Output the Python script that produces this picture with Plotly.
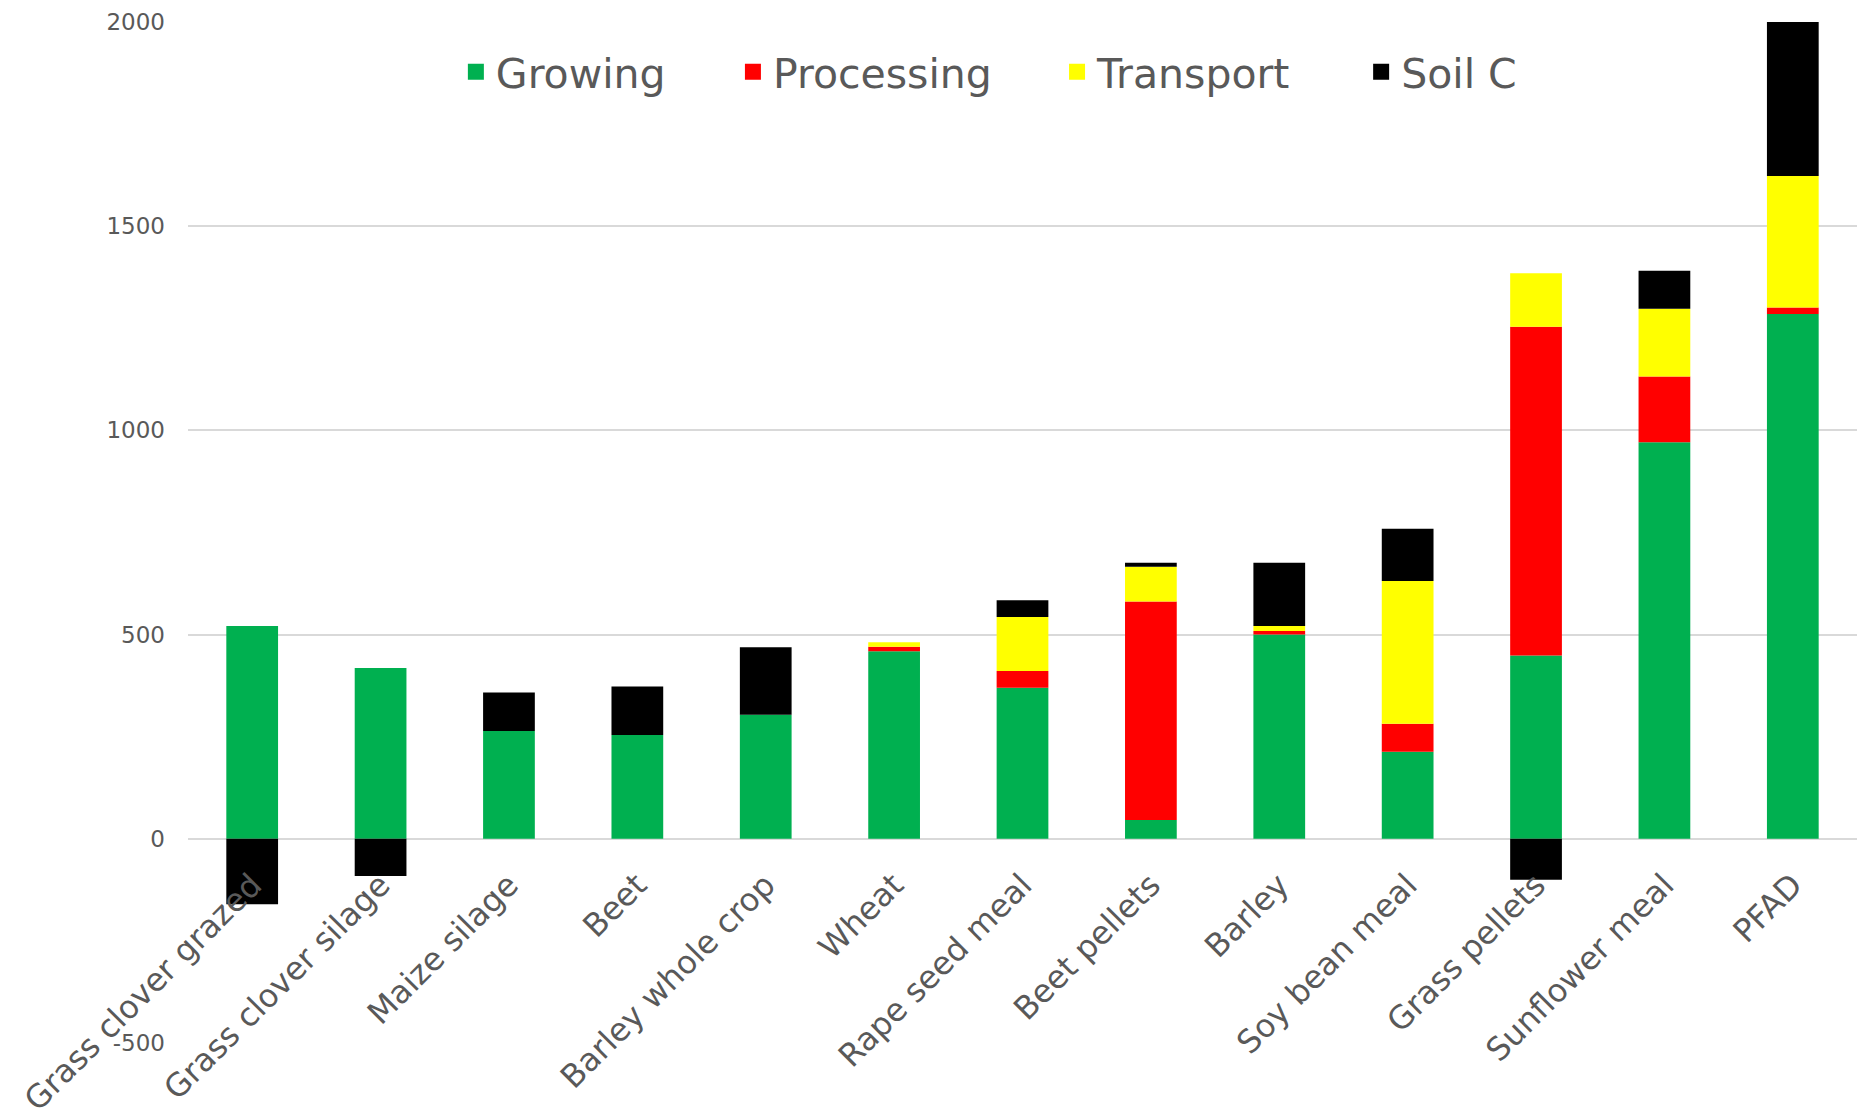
import plotly.graph_objects as go

categories = ["Grass clover grazed", "Grass clover silage", "Maize silage", "Beet",
              "Barley whole crop", "Wheat", "Rape seed meal", "Beet pellets", "Barley",
              "Soy bean meal", "Grass pellets", "Sunflower meal", "PFAD"]
growing = [521, 418, 264, 254, 304, 459, 370, 46, 500, 213, 449, 971, 1285]
processing = [0, 0, 0, 0, 0, 11, 41, 535, 9, 69, 805, 161, 16]
transport = [0, 0, 0, 0, 0, 11, 132, 85, 12, 349, 131, 166, 322]
soil_c = [-160, -91, 94, 119, 165, 0, 41, 10, 155, 128, -100, 93, 377]

y_tick_values = [-500, 0, 500, 1000, 1500, 2000]
y_tick_labels = ["-500", "0", "500", "1000", "1500", "2000"]

series_names = ["Growing", "Processing", "Transport", "Soil C"]
series_values = [growing, processing, transport, soil_c]
series_colors = ["#00B050", "#FF0000", "#FFFF00", "#000000"]
legend_ids = ["legend", "legend2", "legend3", "legend4"]
legend_x = [0.1605, 0.3265, 0.5207, 0.7029]

y_min, y_max = -500, 2000
FONT = "DejaVu Sans"
GREY = "#595959"

fig = go.Figure()
for name, vals, col, lid in zip(series_names, series_values, series_colors, legend_ids):
    fig.add_trace(go.Bar(x=categories, y=vals, name=name, marker_color=col,
                         marker_line_width=0, legendgroup=name, showlegend=False))
    # legend entry (larger square key than bar legend symbols allow)
    fig.add_trace(go.Scatter(x=[None], y=[None], mode="markers", name=name,
                             marker=dict(symbol="square", size=16, color=col),
                             legendgroup=name, showlegend=True, legend=lid,
                             hoverinfo="skip"))

legend_common = dict(orientation="h", yanchor="middle", y=0.951, xanchor="left",
                     bgcolor="rgba(0,0,0,0)", font=dict(family=FONT, size=41, color=GREY))
layout_legends = {}
for lid, lx in zip(legend_ids, legend_x):
    layout_legends[lid] = dict(legend_common, x=lx)

fig.update_layout(
    width=1860, height=1120,
    margin=dict(l=188, r=3, t=22, b=77, autoexpand=False),
    paper_bgcolor="white", plot_bgcolor="white",
    showlegend=True,
    barmode="relative", bargap=0.597,
    font=dict(family=FONT, color=GREY),
    xaxis=dict(anchor="free", position=(0 - y_min) / (y_max - y_min),
               showgrid=False, showline=False, zeroline=False, ticks="",
               tickangle=-45, tickfont=dict(family=FONT, size=32, color=GREY),
               ticklabelstandoff=20, ticklabelshift=0),
    yaxis=dict(range=[y_min, y_max], tickvals=y_tick_values, ticktext=y_tick_labels,
               showgrid=True, gridcolor="#D9D9D9", gridwidth=2, zeroline=False,
               showline=False, ticks="", ticklabelstandoff=22,
               tickfont=dict(family=FONT, size=23, color=GREY)),
    **layout_legends,
)

fig.write_html("out.html")
